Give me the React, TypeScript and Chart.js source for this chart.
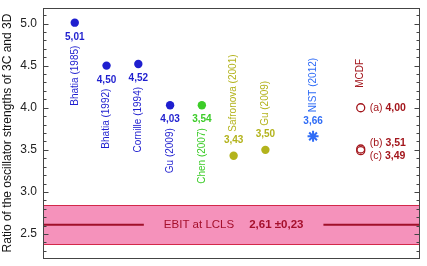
import React, { useEffect, useRef } from 'react';
import { Chart, registerables } from 'chart.js';
Chart.register(...registerables);

const names = ['Bhatia (1985)', 'Bhatia (1992)', 'Cornille (1994)', 'Gu (2009)', 'Chen (2007)', 'Safronova (2001)', 'Gu (2009)', 'NIST (2012)'];
const positions = [1, 2, 3, 4, 5, 6, 7, 8.5];
const values = [5.01, 4.5, 4.52, 4.03, 4.03, 3.43, 3.5, 3.66];
const valueLabels = ['5,01', '4,50', '4,52', '4,03', '3,54', '3,43', '3,50', '3,66'];
const groups = ['blue', 'blue', 'blue', 'blue', 'green', 'yellow', 'yellow', 'nist'];
const mcdfName = 'MCDF';
const mcdfX = 10;
const mcdfValues = [4.0, 3.51, 3.49];
const mcdfLabels = ['(a)', '(b)', '(c)'];
const mcdfValueLabels = ['4,00', '3,51', '3,49'];
const ebitValue = 2.61;
const ebitError = 0.23;
const ebitLabel = 'EBIT at LCLS';
const ebitValueLabel = '2,61 \u00b10,23';
const yTicks = [2.5, 3.0, 3.5, 4.0, 4.5, 5.0];
const yTickLabels = ['2.5', '3.0', '3.5', '4.0', '4.5', '5.0'];
const yTitle = 'Ratio of the oscillator strengths of 3C and 3D';

const FONT = '"Liberation Sans", Arial, sans-serif';
const colors: Record<string, string> = {
  blue: '#1f1fcf',
  green: '#3ccc28',
  yellow: '#b3b31c',
  nist: '#2f6cf6',
  mcdf: '#a3161c',
};
const below: Record<string, boolean> = { blue: true, green: true, yellow: false, nist: false };

export default function App() {
  const ref = useRef<HTMLCanvasElement>(null);
  useEffect(() => {
    document.body.style.margin = '0';
    const groupKeys = ['blue', 'green', 'yellow', 'nist'];
    const datasets: any[] = groupKeys.map((g) => ({
      label: g,
      data: positions.map((x, i) => ({ x, y: values[i] })).filter((_, i) => groups[i] === g),
      backgroundColor: colors[g],
      borderColor: colors[g],
      pointStyle: g === 'nist' ? 'star' : 'circle',
      pointRadius: g === 'nist' ? 5.5 : 4.2,
      borderWidth: g === 'nist' ? 2 : 0,
    }));
    datasets.push({
      label: 'mcdf',
      data: mcdfValues.map((y) => ({ x: mcdfX, y })),
      backgroundColor: 'rgba(0,0,0,0)',
      borderColor: colors.mcdf,
      pointStyle: 'circle',
      pointRadius: 4,
      borderWidth: 1.3,
    });

    const bandPlugin = {
      id: 'ebitBand',
      beforeDatasetsDraw(chart: any) {
        const { ctx, chartArea: ca, scales } = chart;
        const y = scales.y;
        const x = scales.x;
        const yt = y.getPixelForValue(ebitValue + ebitError);
        const yb = y.getPixelForValue(ebitValue - ebitError);
        const yc = y.getPixelForValue(ebitValue);
        ctx.save();
        ctx.fillStyle = '#f592bb';
        ctx.fillRect(ca.left, yt, ca.right - ca.left, yb - yt);
        ctx.strokeStyle = '#d3284a';
        ctx.lineWidth = 1;
        ctx.beginPath();
        ctx.moveTo(ca.left, Math.round(yt) + 0.5);
        ctx.lineTo(ca.right, Math.round(yt) + 0.5);
        ctx.moveTo(ca.left, Math.round(yb) + 0.5);
        ctx.lineTo(ca.right, Math.round(yb) + 0.5);
        ctx.stroke();
        ctx.font = `11.5px ${FONT}`;
        const w1 = ctx.measureText(ebitLabel).width;
        ctx.font = `bold 11.5px ${FONT}`;
        const w2 = ctx.measureText(ebitValueLabel).width;
        const gap = 15;
        const total = w1 + gap + w2;
        const cx = x.getPixelForValue(6);
        const sx = cx - total / 2;
        ctx.fillStyle = '#a5102c';
        ctx.textBaseline = 'middle';
        ctx.textAlign = 'left';
        ctx.font = `11.5px ${FONT}`;
        ctx.fillText(ebitLabel, sx, yc);
        ctx.font = `bold 11.5px ${FONT}`;
        ctx.fillText(ebitValueLabel, sx + w1 + gap, yc);
        ctx.strokeStyle = '#a0102a';
        ctx.lineWidth = 2;
        ctx.beginPath();
        ctx.moveTo(ca.left, yc);
        ctx.lineTo(sx - 20, yc);
        ctx.moveTo(sx + total + 20, yc);
        ctx.lineTo(ca.right, yc);
        ctx.stroke();
        ctx.restore();
      },
    };

    const labelPlugin = {
      id: 'pointLabels',
      afterDatasetsDraw(chart: any) {
        const { ctx, scales } = chart;
        const x = scales.x;
        const y = scales.y;
        ctx.save();
        positions.forEach((px, i) => {
          const X = x.getPixelForValue(px);
          const Y = y.getPixelForValue(values[i]);
          ctx.fillStyle = colors[groups[i]];
          const isBelow = below[groups[i]];
          ctx.font = `bold 10px ${FONT}`;
          ctx.textAlign = 'center';
          ctx.textBaseline = 'middle';
          ctx.fillText(valueLabels[i], X, isBelow ? Y + 14.5 : Y - 15.5);
          ctx.font = `10px ${FONT}`;
          ctx.save();
          ctx.translate(X, isBelow ? Y + 23 : Y - 24);
          ctx.rotate(-Math.PI / 2);
          ctx.textAlign = isBelow ? 'right' : 'left';
          ctx.textBaseline = 'middle';
          ctx.fillText(names[i], 0, 0);
          ctx.restore();
        });
        const MX = x.getPixelForValue(mcdfX);
        ctx.fillStyle = colors.mcdf;
        ctx.save();
        ctx.translate(MX, y.getPixelForValue(mcdfValues[0]) - 20);
        ctx.rotate(-Math.PI / 2);
        ctx.textAlign = 'left';
        ctx.textBaseline = 'middle';
        ctx.font = `10px ${FONT}`;
        ctx.fillText(mcdfName, 0, 0);
        ctx.restore();
        const offs = [0, -5.5, 5];
        mcdfValues.forEach((v, i) => {
          const Y = y.getPixelForValue(v) + offs[i];
          ctx.textAlign = 'left';
          ctx.textBaseline = 'middle';
          ctx.font = `10.5px ${FONT}`;
          const sx = MX + 9;
          ctx.fillText(mcdfLabels[i], sx, Y);
          const w = ctx.measureText(mcdfLabels[i] + ' ').width;
          ctx.font = `bold 10.5px ${FONT}`;
          ctx.fillText(mcdfValueLabels[i], sx + w, Y);
        });
        ctx.restore();
      },
    };

    const axisPlugin = {
      id: 'frameAxis',
      afterDraw(chart: any) {
        const { ctx, chartArea: ca, scales } = chart;
        const y = scales.y;
        ctx.save();
        try {
          ctx.strokeStyle = '#444';
          ctx.lineWidth = 1;
          const l = Math.round(ca.left) + 0.5;
          const r = Math.round(ca.right) - 0.5;
          const t = Math.round(ca.top) + 0.5;
          const b = Math.round(ca.bottom) - 0.5;
          ctx.strokeRect(l, t, r - l, b - t);
          ctx.beginPath();
          for (let k = 22; k <= 52; k++) {
            const v = k / 10;
            if (v < y.min || v > y.max) continue;
            const py = Math.round(y.getPixelForValue(v)) + 0.5;
            const len = k % 5 === 0 ? 5 : 3;
            ctx.moveTo(l, py);
            ctx.lineTo(l + len, py);
            ctx.moveTo(r, py);
            ctx.lineTo(r - len, py);
          }
          ctx.stroke();
          // tick labels
          ctx.fillStyle = '#222';
          ctx.font = `12px ${FONT}`;
          ctx.textAlign = 'right';
          ctx.textBaseline = 'middle';
          yTicks.forEach((v, i) => {
            ctx.fillText(yTickLabels[i], ca.left - 6, y.getPixelForValue(v));
          });
          // title
          ctx.fillStyle = '#111';
          ctx.translate(7.5, (ca.top + ca.bottom) / 2);
          ctx.rotate(-Math.PI / 2);
          ctx.textAlign = 'center';
          ctx.fillText(yTitle, 0, 0);
        } catch (e: any) {
          ctx.setTransform(1, 0, 0, 1, 0, 0);
          ctx.fillStyle = 'red';
          ctx.font = '10px sans-serif';
          ctx.textAlign = 'left';
          ctx.fillText('ERR ' + (e && e.message), 50, 240);
        }
        ctx.restore();
      },
    };

    const chart = new Chart(ref.current!, {
      type: 'scatter',
      data: { datasets },
      plugins: [bandPlugin, labelPlugin, axisPlugin],
      options: {
        animation: false,
        responsive: false,
        events: [],
        layout: { padding: { top: 2, right: 5, bottom: 2, left: 43 } },
        plugins: { legend: { display: false }, tooltip: { enabled: false } },
        scales: {
          x: { type: 'linear', min: 0, max: 11.85, display: false },
          y: { type: 'linear', min: 2.21, max: 5.19, display: false },
        },
      },
    });
    return () => chart.destroy();
  }, []);
  return <canvas ref={ref} width={427} height={266} style={{ display: 'block' }} />;
}
